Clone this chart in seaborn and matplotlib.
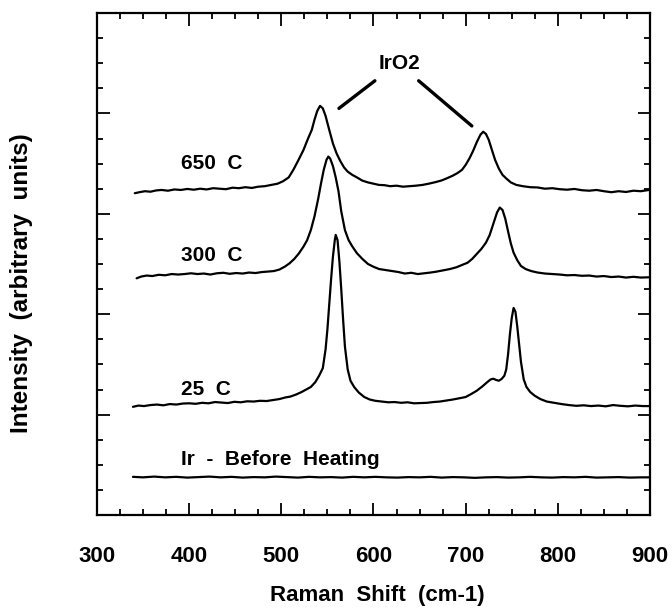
import matplotlib
matplotlib.use("Agg")
import matplotlib.pyplot as plt
from matplotlib.ticker import MultipleLocator, NullFormatter
import seaborn as sns
import pandas as pd

# ---- data (intensity in arbitrary units) ----
x_650 = [341, 346, 352, 358, 364, 370, 377, 384, 391, 398, 405, 412, 419, 426, 433, 440, 447, 454, 461, 468,
         475, 482, 489, 496, 502, 508, 513, 518, 524, 529, 533, 536, 539, 542, 545, 548, 552, 556, 560, 564,
         568, 572, 577, 582, 588, 594, 600, 606, 612, 618, 625, 632, 639, 646, 653, 660, 667, 674, 680, 686,
         691, 696, 700, 704, 708, 712, 716, 719, 722, 725, 728, 732, 736, 740, 744, 749, 755, 762, 770, 778,
         786, 794, 802, 810, 818, 826, 834, 842, 850, 858, 866, 874, 882, 890, 899]
y_650 = [12.82, 12.86, 12.90, 12.88, 12.93, 12.95, 12.92, 12.97, 12.95, 12.99, 12.96, 13.0, 12.97, 13.02, 13.0, 12.98, 13.04, 13.02, 13.06, 13.03,
         13.08, 13.1, 13.15, 13.2, 13.3, 13.45, 13.75, 14.1, 14.54, 15.0, 15.34, 15.75, 16.1, 16.3, 16.2, 15.9, 15.34, 14.8, 14.4, 14.1,
         13.85, 13.68, 13.55, 13.45, 13.32, 13.25, 13.2, 13.15, 13.14, 13.1, 13.12, 13.08, 13.1, 13.12, 13.15, 13.2, 13.26, 13.33, 13.42, 13.52,
         13.62, 13.75, 13.95, 14.2, 14.5, 14.85, 15.15, 15.27, 15.18, 14.95, 14.6, 14.14, 13.8, 13.55, 13.41, 13.25, 13.15, 13.1, 13.06, 13.05,
         13.0, 13.02, 12.98, 12.96, 12.99, 12.94, 12.92, 12.95, 12.9, 12.86, 12.9, 12.87, 12.92, 12.9, 12.95]

x_300 = [343, 348, 354, 360, 367, 374, 381, 388, 395, 402, 409, 416, 423, 430, 437, 444, 451, 458, 465, 472,
         479, 486, 492, 498, 504, 509, 514, 519, 524, 528, 532, 536, 540, 543, 546, 549, 551, 553, 556, 559,
         562, 565, 569, 573, 577, 582, 588, 594, 600, 606, 613, 620, 627, 634, 641, 648, 655, 662, 669, 676,
         683, 690, 696, 702, 707, 712, 717, 722, 726, 730, 734, 737, 740, 743, 746, 749, 752, 756, 760, 765,
         771, 778, 786, 794, 802, 810, 818, 826, 834, 842, 850, 858, 866, 874, 882, 890, 899]
y_300 = [9.43, 9.5, 9.54, 9.52, 9.57, 9.55, 9.6, 9.58, 9.6, 9.63, 9.6, 9.62, 9.58, 9.63, 9.65, 9.61, 9.64, 9.62, 9.66, 9.64,
         9.68, 9.7, 9.72, 9.78, 9.9, 10.03, 10.2, 10.42, 10.69, 10.95, 11.35, 11.9, 12.6, 13.2, 13.75, 14.15, 14.28, 14.2, 13.9, 13.45,
         12.9, 12.1, 11.35, 10.95, 10.7, 10.43, 10.2, 10.0, 9.89, 9.8, 9.76, 9.72, 9.68, 9.62, 9.65, 9.6, 9.63, 9.66, 9.7, 9.75,
         9.8, 9.87, 9.96, 10.05, 10.2, 10.4, 10.6, 10.85, 11.15, 11.6, 12.05, 12.25, 12.15, 11.8, 11.3, 10.82, 10.45, 10.15, 9.92, 9.8,
         9.72, 9.66, 9.62, 9.6, 9.58, 9.55, 9.56, 9.53, 9.54, 9.5, 9.52, 9.48, 9.5, 9.46, 9.49, 9.46, 9.47]

x_25 = [339, 345, 351, 358, 365, 372, 379, 386, 393, 400, 407, 414, 421, 428, 435, 442, 449, 456, 463, 470,
        477, 484, 491, 498, 504, 510, 516, 522, 527, 532, 537, 541, 545, 548, 550, 552, 554, 556, 558, 559,
        561, 563, 565, 567, 569, 572, 575, 579, 584, 590, 596, 602, 609, 616, 623, 630, 637, 644, 651, 658,
        665, 672, 679, 686, 693, 700, 706, 712, 718, 723, 727, 730, 733, 736, 739, 742, 744, 746, 748, 750,
        752, 754, 756, 758, 760, 763, 766, 770, 775, 781, 788, 796, 804, 812, 820, 828, 836, 844, 852, 860,
        868, 876, 884, 892, 899]
y_25 = [4.31, 4.36, 4.34, 4.38, 4.4, 4.37, 4.42, 4.4, 4.44, 4.45, 4.43, 4.47, 4.45, 4.5, 4.48, 4.46, 4.51, 4.49, 4.53, 4.52,
        4.55, 4.54, 4.58, 4.62, 4.68, 4.72, 4.8, 4.9, 5.0, 5.1, 5.3, 5.55, 5.85, 6.6, 7.4, 8.4, 9.4, 10.3, 10.95, 11.16,
        10.95, 10.1, 9.0, 7.8, 6.71, 5.8, 5.35, 5.1, 4.88, 4.7, 4.6, 4.55, 4.52, 4.49, 4.5, 4.47, 4.49, 4.45, 4.46, 4.47,
        4.5, 4.52, 4.56, 4.6, 4.65, 4.7, 4.82, 4.95, 5.12, 5.28, 5.4, 5.43, 5.38, 5.35, 5.42, 5.55, 5.8, 6.4, 7.2, 7.85,
        8.25, 8.1, 7.5, 6.8, 6.1, 5.4, 5.1, 4.9, 4.75, 4.62, 4.52, 4.47, 4.42, 4.38, 4.35, 4.37, 4.34, 4.36, 4.33, 4.38,
        4.35, 4.33, 4.36, 4.34, 4.34]

x_ir = [339, 350, 362, 374, 386, 398, 410, 422, 434, 446, 458, 470, 482, 494, 506, 518, 530, 542, 554, 566,
        578, 590, 602, 614, 626, 638, 650, 662, 674, 686, 698, 710, 722, 734, 746, 758, 770, 782, 794, 806,
        818, 830, 842, 854, 866, 878, 890, 899]
y_ir = [1.52, 1.5, 1.53, 1.5, 1.52, 1.49, 1.51, 1.53, 1.5, 1.52, 1.49, 1.51, 1.5, 1.53, 1.51, 1.49, 1.52, 1.5, 1.51, 1.49,
        1.52, 1.5, 1.52, 1.5, 1.49, 1.51, 1.5, 1.52, 1.49, 1.51, 1.5, 1.48, 1.5, 1.51, 1.49, 1.5, 1.52, 1.5, 1.49, 1.51,
        1.5, 1.52, 1.49, 1.5, 1.51, 1.49, 1.5, 1.5]

curve_labels = ["650  C", "300  C", "25  C", "Ir  -  Before  Heating"]
label_x = [391, 391, 391, 391]
label_y = [14.0, 10.35, 5.0, 2.2]

x_ticks = [300, 400, 500, 600, 700, 800, 900]
x_tick_labels = ["300", "400", "500", "600", "700", "800", "900"]

peak_name = "IrO2"

# ---- style ----
sns.set_theme(style="ticks")
plt.rcParams["font.family"] = ["Liberation Sans", "DejaVu Sans"]
plt.rcParams["font.weight"] = "bold"
plt.rcParams["text.color"] = "black"
plt.rcParams["xtick.color"] = "black"
plt.rcParams["ytick.color"] = "black"
plt.rcParams["axes.edgecolor"] = "black"

fig = plt.figure(figsize=(6.72, 6.08), dpi=100)
ax = fig.add_axes([97 / 672, 1 - 515 / 608, (650 - 97) / 672, (515 - 13) / 608])

curves = [(x_650, y_650), (x_300, y_300), (x_25, y_25), (x_ir, y_ir)]
for xs, ys in curves:
    df = pd.DataFrame({"x": xs, "y": ys})
    sns.lineplot(data=df, x="x", y="y", color="black", linewidth=1.6, sort=False,
                 estimator=None, ax=ax)

ax.set_xlim(300, 900)
ax.set_ylim(0, 20)
ax.set_xlabel("")
ax.set_ylabel("")

ax.xaxis.set_major_locator(MultipleLocator(100))
ax.xaxis.set_minor_locator(MultipleLocator(25))
ax.yaxis.set_major_locator(MultipleLocator(4))
ax.yaxis.set_minor_locator(MultipleLocator(1))
ax.set_xticks(x_ticks)
ax.set_xticklabels(x_tick_labels)
ax.yaxis.set_major_formatter(NullFormatter())

ax.tick_params(which="both", direction="in", top=True, right=True, left=True, bottom=True,
               color="black", width=1.3)
ax.tick_params(which="major", length=9)
ax.tick_params(which="minor", length=4.5)
ax.tick_params(axis="x", which="major", labelsize=16, labelcolor="black", pad=22)
for lab in ax.get_xticklabels():
    lab.set_fontweight("bold")

for sp in ax.spines.values():
    sp.set_visible(True)
    sp.set_linewidth(1.6)
    sp.set_color("black")

for txt, lx, ly in zip(curve_labels, label_x, label_y):
    ax.text(lx, ly, txt, ha="left", va="center", fontsize=15, fontweight="bold", color="black")

ax.text(628.6, 18.0, peak_name, ha="center", va="center", fontsize=15, fontweight="bold", color="black")
ax.plot([562.5, 601.5], [16.2, 17.3], color="black", linewidth=2.4)
ax.plot([649, 706.7], [17.3, 15.5], color="black", linewidth=2.4)

fig.text(377 / 672, 1 - 596 / 608, "Raman  Shift  (cm-1)", ha="center", va="center",
         fontsize=16, fontweight="bold", color="black")
fig.text(22 / 672, 1 - 283 / 608, "Intensity  (arbitrary  units)", ha="center", va="center",
         rotation=90, fontsize=17.5, fontweight="bold", color="black")

fig.savefig("out.png", dpi=100)
